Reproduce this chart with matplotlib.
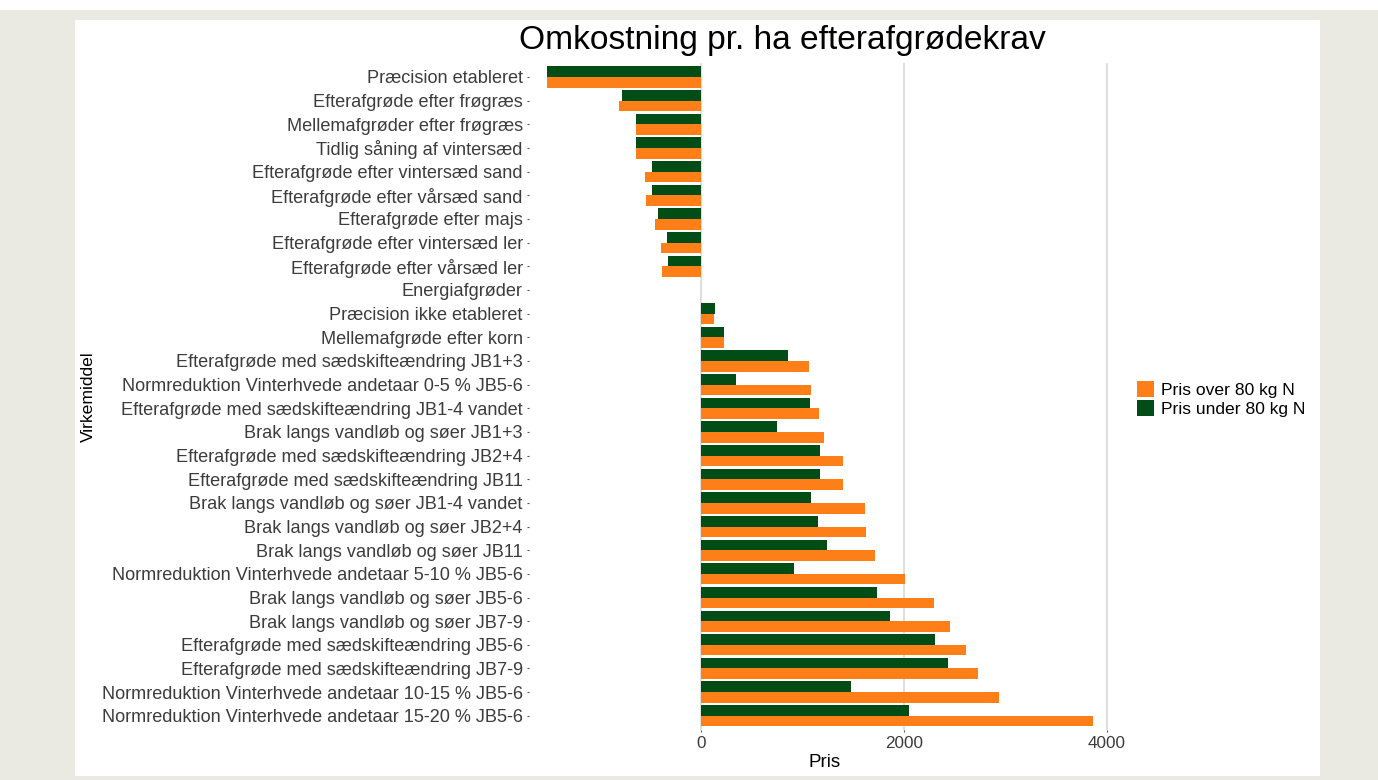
import numpy as np
import matplotlib
matplotlib.use("Agg")
import matplotlib.pyplot as plt
from matplotlib.patches import Rectangle, Patch

plt.rcParams['font.family'] = ['Liberation Sans', 'DejaVu Sans']

# Data
categories = [
    "Præcision etableret",
    "Efterafgrøde efter frøgræs",
    "Mellemafgrøder efter frøgræs",
    "Tidlig såning af vintersæd",
    "Efterafgrøde efter vintersæd sand",
    "Efterafgrøde efter vårsæd sand",
    "Efterafgrøde efter majs",
    "Efterafgrøde efter vintersæd ler",
    "Efterafgrøde efter vårsæd ler",
    "Energiafgrøder",
    "Præcision ikke etableret",
    "Mellemafgrøde efter korn",
    "Efterafgrøde med sædskifteændring JB1+3",
    "Normreduktion Vinterhvede andetaar 0-5 % JB5-6",
    "Efterafgrøde med sædskifteændring JB1-4 vandet",
    "Brak langs vandløb og søer JB1+3",
    "Efterafgrøde med sædskifteændring JB2+4",
    "Efterafgrøde med sædskifteændring JB11",
    "Brak langs vandløb og søer JB1-4 vandet",
    "Brak langs vandløb og søer JB2+4",
    "Brak langs vandløb og søer JB11",
    "Normreduktion Vinterhvede andetaar 5-10 % JB5-6",
    "Brak langs vandløb og søer JB5-6",
    "Brak langs vandløb og søer JB7-9",
    "Efterafgrøde med sædskifteændring JB5-6",
    "Efterafgrøde med sædskifteændring JB7-9",
    "Normreduktion Vinterhvede andetaar 10-15 % JB5-6",
    "Normreduktion Vinterhvede andetaar 15-20 % JB5-6",
]
pris_under = [-1517, -774, -636, -636, -486, -479, -423, -331, -321, 0,
              138, 227, 860, 341, 1077, 745, 1172, 1172, 1083, 1152,
              1244, 916, 1734, 1868, 2311, 2436, 1484, 2052]
pris_over = [-1517, -804, -636, -636, -552, -538, -453, -394, -387, 0,
             131, 227, 1070, 1087, 1159, 1212, 1396, 1405, 1615, 1625,
             1711, 2012, 2298, 2453, 2613, 2732, 2938, 3861]

GREEN = '#014d15'
ORANGE = '#fe7f17'
W, H = 1378, 780

fig = plt.figure(figsize=(W / 100, H / 100), dpi=100, facecolor='white')

# page background and white card
fig.patches.append(Rectangle((0, 0), 1, 1 - 10 / H, transform=fig.transFigure,
                             facecolor='#eae9e2', edgecolor='none', zorder=-10))
fig.patches.append(Rectangle((75 / W, 1 - 776 / H), (1320 - 75) / W, (776 - 20) / H,
                             transform=fig.transFigure, facecolor='white',
                             edgecolor='none', zorder=-9))

left, right, top, bottom = 529, 1120, 62.8, 730
ax = fig.add_axes([left / W, 1 - bottom / H, (right - left) / W, (bottom - top) / H])
ax.set_facecolor('none')

y = np.arange(len(categories))
bh = 0.45
ax.barh(y - bh / 2, pris_under, height=bh, color=GREEN, zorder=3)
ax.barh(y + bh / 2, pris_over, height=bh, color=ORANGE, zorder=3)

ax.set_xlim(-1694, 4130)
ax.set_ylim(len(categories) - 0.4, -0.6)
ax.set_xticks([0, 2000, 4000])
ax.set_yticks(y)
ax.set_yticklabels(categories)
ax.grid(axis='x', color='#dcdcdc', linewidth=1.3, zorder=0)
ax.set_axisbelow(True)
for s in ax.spines.values():
    s.set_visible(False)
ax.tick_params(axis='both', length=1.5, width=0.8, color='#555555',
               labelcolor='#3c3c3c', pad=3)
ax.tick_params(axis='y', labelsize=13.1)
ax.tick_params(axis='x', labelsize=12.3)

ax.set_xlabel('Pris', fontsize=13.5, color='black', labelpad=2)
fig.text(88 / W, 1 - 397 / H, 'Virkemiddel', rotation=90, fontsize=12.6,
         ha='center', va='center')
fig.text(519 / W, 1 - 49 / H, 'Omkostning pr. ha efterafgrødekrav', fontsize=24.1,
         ha='left', va='baseline')

handles = [Patch(facecolor=ORANGE, label='Pris over 80 kg N'),
           Patch(facecolor=GREEN, label='Pris under 80 kg N')]
fig.legend(handles=handles, loc='center left', bbox_to_anchor=(1128 / W, 1 - 399 / H),
           frameon=False, fontsize=12.6, handlelength=1.0, handleheight=1.0,
           handletextpad=0.4, labelspacing=0.1, borderpad=0)

fig.savefig('out.png', dpi=100)
